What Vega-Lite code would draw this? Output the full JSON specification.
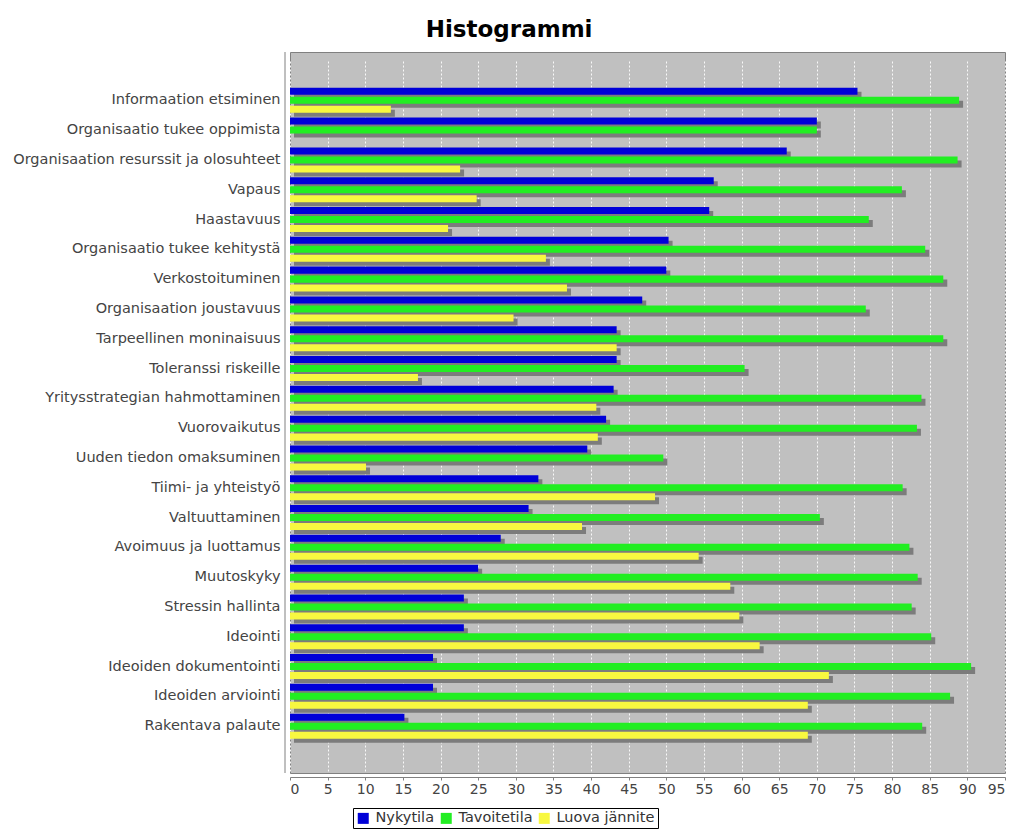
{
  "$schema": "https://vega.github.io/schema/vega-lite/v6.json",
  "width": 715,
  "height": 721,
  "autosize": {"type": "none"},
  "padding": {"left": 290, "top": 52, "right": 11, "bottom": 58},
  "background": "white",
  "title": {
    "text": "Histogrammi",
    "font": "DejaVu Sans",
    "fontSize": 23,
    "fontWeight": "bold",
    "color": "#000000",
    "anchor": "middle",
    "frame": "bounds",
    "baseline": "alphabetic",
    "offset": -8
  },
  "config": {
    "view": {"fill": "#c0c0c0", "stroke": "#808080", "strokeWidth": 1},
    "axis": {
      "labelFont": "DejaVu Sans",
      "labelFontSize": 14,
      "labelColor": "#444444",
      "domainColor": "#808080",
      "tickColor": "#808080",
      "labelLimit": 400,
      "title": null
    },
    "axisX": {
      "values": [0, 5, 10, 15, 20, 25, 30, 35, 40, 45, 50, 55, 60, 65, 70, 75, 80, 85, 90, 95],
      "offset": 4,
      "tickSize": 3,
      "labelPadding": 2,
      "grid": true,
      "gridColor": "#ffffff",
      "gridDash": [2, 2],
      "gridWidth": 1,
      "gridOpacity": 0.9
    },
    "legend": {
      "labelFont": "DejaVu Sans",
      "labelFontSize": 14.5,
      "labelColor": "#333333",
      "labelLimit": 300
    }
  },
  "datasets": {
    "scores": [
      {"k": "Informaation etsiminen", "s": "Nykytila", "v": 75.4},
      {"k": "Informaation etsiminen", "s": "Tavoitetila", "v": 88.9},
      {"k": "Informaation etsiminen", "s": "Luova jännite", "v": 13.4},
      {"k": "Organisaatio tukee oppimista", "s": "Nykytila", "v": 70.0},
      {"k": "Organisaatio tukee oppimista", "s": "Tavoitetila", "v": 70.0},
      {"k": "Organisaatio tukee oppimista", "s": "Luova jännite", "v": 0.0},
      {"k": "Organisaation resurssit ja olosuhteet", "s": "Nykytila", "v": 66.0},
      {"k": "Organisaation resurssit ja olosuhteet", "s": "Tavoitetila", "v": 88.7},
      {"k": "Organisaation resurssit ja olosuhteet", "s": "Luova jännite", "v": 22.6},
      {"k": "Vapaus", "s": "Nykytila", "v": 56.3},
      {"k": "Vapaus", "s": "Tavoitetila", "v": 81.3},
      {"k": "Vapaus", "s": "Luova jännite", "v": 24.8},
      {"k": "Haastavuus", "s": "Nykytila", "v": 55.7},
      {"k": "Haastavuus", "s": "Tavoitetila", "v": 76.9},
      {"k": "Haastavuus", "s": "Luova jännite", "v": 21.0},
      {"k": "Organisaatio tukee kehitystä", "s": "Nykytila", "v": 50.3},
      {"k": "Organisaatio tukee kehitystä", "s": "Tavoitetila", "v": 84.4},
      {"k": "Organisaatio tukee kehitystä", "s": "Luova jännite", "v": 34.0},
      {"k": "Verkostoituminen", "s": "Nykytila", "v": 50.0},
      {"k": "Verkostoituminen", "s": "Tavoitetila", "v": 86.8},
      {"k": "Verkostoituminen", "s": "Luova jännite", "v": 36.8},
      {"k": "Organisaation joustavuus", "s": "Nykytila", "v": 46.8},
      {"k": "Organisaation joustavuus", "s": "Tavoitetila", "v": 76.5},
      {"k": "Organisaation joustavuus", "s": "Luova jännite", "v": 29.7},
      {"k": "Tarpeellinen moninaisuus", "s": "Nykytila", "v": 43.4},
      {"k": "Tarpeellinen moninaisuus", "s": "Tavoitetila", "v": 86.8},
      {"k": "Tarpeellinen moninaisuus", "s": "Luova jännite", "v": 43.4},
      {"k": "Toleranssi riskeille", "s": "Nykytila", "v": 43.4},
      {"k": "Toleranssi riskeille", "s": "Tavoitetila", "v": 60.4},
      {"k": "Toleranssi riskeille", "s": "Luova jännite", "v": 17.0},
      {"k": "Yritysstrategian hahmottaminen", "s": "Nykytila", "v": 43.0},
      {"k": "Yritysstrategian hahmottaminen", "s": "Tavoitetila", "v": 83.9},
      {"k": "Yritysstrategian hahmottaminen", "s": "Luova jännite", "v": 40.7},
      {"k": "Vuorovaikutus", "s": "Nykytila", "v": 42.0},
      {"k": "Vuorovaikutus", "s": "Tavoitetila", "v": 83.3},
      {"k": "Vuorovaikutus", "s": "Luova jännite", "v": 40.9},
      {"k": "Uuden tiedon omaksuminen", "s": "Nykytila", "v": 39.5},
      {"k": "Uuden tiedon omaksuminen", "s": "Tavoitetila", "v": 49.6},
      {"k": "Uuden tiedon omaksuminen", "s": "Luova jännite", "v": 10.1},
      {"k": "Tiimi- ja yhteistyö", "s": "Nykytila", "v": 33.0},
      {"k": "Tiimi- ja yhteistyö", "s": "Tavoitetila", "v": 81.4},
      {"k": "Tiimi- ja yhteistyö", "s": "Luova jännite", "v": 48.5},
      {"k": "Valtuuttaminen", "s": "Nykytila", "v": 31.7},
      {"k": "Valtuuttaminen", "s": "Tavoitetila", "v": 70.4},
      {"k": "Valtuuttaminen", "s": "Luova jännite", "v": 38.8},
      {"k": "Avoimuus ja luottamus", "s": "Nykytila", "v": 28.0},
      {"k": "Avoimuus ja luottamus", "s": "Tavoitetila", "v": 82.3},
      {"k": "Avoimuus ja luottamus", "s": "Luova jännite", "v": 54.3},
      {"k": "Muutoskyky", "s": "Nykytila", "v": 25.0},
      {"k": "Muutoskyky", "s": "Tavoitetila", "v": 83.4},
      {"k": "Muutoskyky", "s": "Luova jännite", "v": 58.5},
      {"k": "Stressin hallinta", "s": "Nykytila", "v": 23.1},
      {"k": "Stressin hallinta", "s": "Tavoitetila", "v": 82.6},
      {"k": "Stressin hallinta", "s": "Luova jännite", "v": 59.7},
      {"k": "Ideointi", "s": "Nykytila", "v": 23.1},
      {"k": "Ideointi", "s": "Tavoitetila", "v": 85.2},
      {"k": "Ideointi", "s": "Luova jännite", "v": 62.4},
      {"k": "Ideoiden dokumentointi", "s": "Nykytila", "v": 19.0},
      {"k": "Ideoiden dokumentointi", "s": "Tavoitetila", "v": 90.5},
      {"k": "Ideoiden dokumentointi", "s": "Luova jännite", "v": 71.6},
      {"k": "Ideoiden arviointi", "s": "Nykytila", "v": 19.0},
      {"k": "Ideoiden arviointi", "s": "Tavoitetila", "v": 87.7},
      {"k": "Ideoiden arviointi", "s": "Luova jännite", "v": 68.8},
      {"k": "Rakentava palaute", "s": "Nykytila", "v": 15.2},
      {"k": "Rakentava palaute", "s": "Tavoitetila", "v": 84.0},
      {"k": "Rakentava palaute", "s": "Luova jännite", "v": 68.8}
    ]
  },
  "layer": [
    {
      "data": {"name": "scores"},
      "mark": {"type": "bar", "color": "#7c7c7c", "xOffset": 4},
      "encoding": {
        "y": {
          "field": "k",
          "type": "nominal",
          "sort": null,
          "scale": {"range": [6, 716.5], "paddingInner": 0.16, "paddingOuter": 1},
          "axis": {
            "ticks": false,
            "domain": false,
            "offset": 5,
            "labelPadding": 5,
            "labelFontSize": 14.5
          }
        },
        "x": {
          "field": "v",
          "type": "quantitative",
          "scale": {"domain": [0, 95], "nice": false}
        },
        "yOffset": {
          "field": "s",
          "type": "nominal",
          "sort": ["Nykytila", "Tavoitetila", "Luova jännite"],
          "scale": {"range": [4, 29], "paddingInner": 0.22, "paddingOuter": 0}
        }
      }
    },
    {
      "data": {"name": "scores"},
      "mark": {"type": "bar"},
      "encoding": {
        "y": {"field": "k", "type": "nominal", "sort": null},
        "x": {"field": "v", "type": "quantitative"},
        "yOffset": {
          "field": "s",
          "type": "nominal",
          "sort": ["Nykytila", "Tavoitetila", "Luova jännite"],
          "scale": {"range": [0, 25], "paddingInner": 0.22, "paddingOuter": 0}
        },
        "color": {
          "field": "s",
          "type": "nominal",
          "sort": ["Nykytila", "Tavoitetila", "Luova jännite"],
          "scale": {
            "domain": ["Nykytila", "Tavoitetila", "Luova jännite"],
            "range": ["#0000d8", "#22ee22", "#f8f840"]
          },
          "legend": {
            "title": null,
            "orient": "none",
            "legendX": 63,
            "legendY": 756,
            "direction": "horizontal",
            "strokeColor": "#000000",
            "fillColor": "#ffffff",
            "padding": 3,
            "symbolType": "square",
            "symbolSize": 121,
            "symbolStrokeWidth": 0,
            "labelOffset": 5,
            "columnPadding": 4
          }
        }
      }
    },
    {
      "description": "category axis line, drawn at the value-axis origin and pulled out to the left",
      "data": {"values": [{}]},
      "mark": {"type": "rule", "color": "#808080", "strokeWidth": 1, "xOffset": -5},
      "encoding": {"x": {"datum": 0, "type": "quantitative"}}
    }
  ],
  "resolve": {"scale": {"yOffset": "independent"}}
}
